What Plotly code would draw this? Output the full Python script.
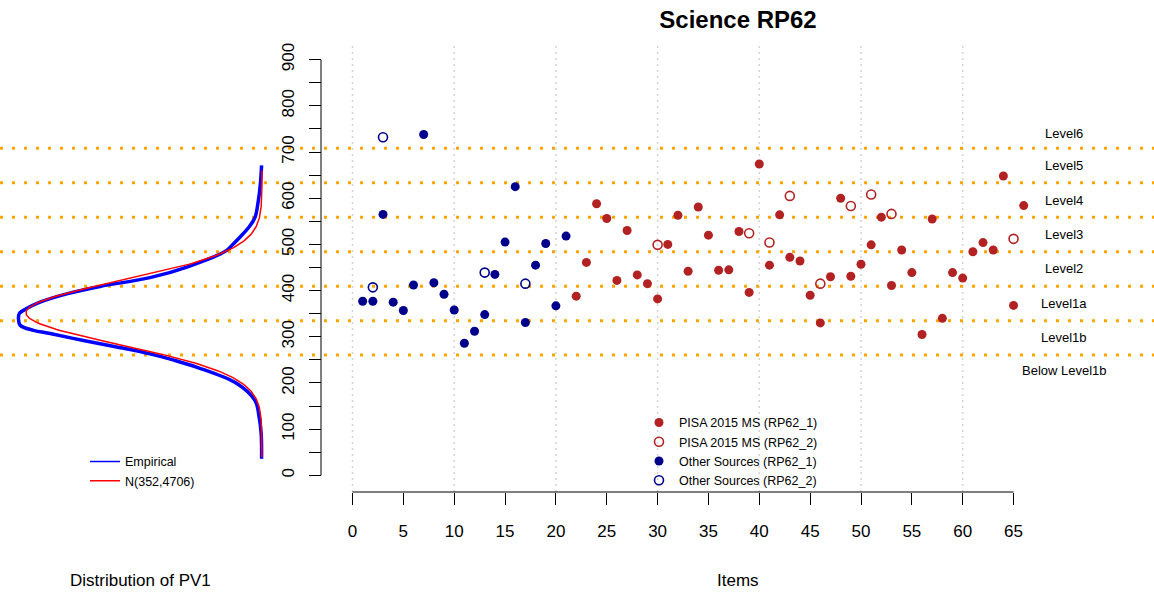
import numpy as np
import plotly.graph_objects as go

# ---------------- data ----------------
title_text = "Science RP62"
x_ticks = list(range(0, 70, 5))
y_ticks = list(range(0, 950, 50))
y_labels = [str(v) if v % 100 == 0 else "" for v in y_ticks]
grid_x = [0, 10, 20, 30, 40, 50, 60]

level_cuts = [260.54, 334.94, 409.54, 484.14, 558.73, 633.33, 707.93]
level_names = ["Below Level1b", "Level1b", "Level1a", "Level2",
               "Level3", "Level4", "Level5", "Level6"]
level_label_item = 70

other_items_1 = list(range(1, 22))
other_vals_1 = [377, 377, 565, 375, 357, 412, 738, 417, 392, 358, 286,
                312, 348, 435, 505, 625, 331, 455, 502, 367, 518]
other_items_2 = [2, 3, 13, 17]
other_vals_2 = [407, 732, 439, 415]

pisa_items_1 = list(range(22, 67))
pisa_vals_1 = [388, 461, 588, 556, 422, 530, 434, 415, 382, 500, 563, 442,
               581, 520, 444, 445, 528, 396, 674, 455, 564, 472, 464, 390,
               330, 430, 600, 431, 457, 499, 559, 411, 488, 439, 305, 555,
               340, 439, 427, 484, 504, 488, 648, 368, 584]
pisa_items_2 = [30, 39, 41, 43, 46, 49, 51, 53, 65]
pisa_vals_2 = [499, 524, 504, 605, 415, 583, 608, 566, 512]

emp_score = [36, 90, 126, 162, 198, 234, 250, 263, 278, 292, 307, 314, 325,
             339, 350, 361, 375, 393, 409, 428, 451, 487, 500, 516, 540,
             559, 595, 631, 671]
emp_density = [0.00001, 0.00002, 0.00007, 0.00017, 0.00060, 0.00160,
               0.00219, 0.00276, 0.00358, 0.00440, 0.00522, 0.00563,
               0.00596, 0.00600, 0.00598, 0.00580, 0.00547, 0.00481,
               0.00399, 0.00276, 0.00185, 0.00087, 0.00072, 0.00054,
               0.00030, 0.00017, 0.00009, 0.00004, 0.00001]

norm_mean = 352
norm_var = 4706
norm_from, norm_to = 40, 660

# ---------------- figure ----------------
W, H = 1154, 592
M_T, M_B = 42.7, 100.4
PLOT_H = H - M_T - M_B
FONT = "Liberation Sans, Arial, Helvetica, sans-serif"

def py(px):  # pixel row -> paper y
    return (H - M_B - px) / PLOT_H

norm_score = np.linspace(norm_from, norm_to, 300)
norm_density = np.exp(-(norm_score - norm_mean) ** 2 / (2 * norm_var)) / np.sqrt(2 * np.pi * norm_var)

fig = go.Figure()

fig.add_trace(go.Scatter(x=pisa_items_1, y=pisa_vals_1, mode="markers", name="PISA 2015 MS (RP62_1)",
                         marker=dict(symbol="circle", size=9, color="#B22222"),
                         xaxis="x2", yaxis="y", legend="legend"))
fig.add_trace(go.Scatter(x=pisa_items_2, y=pisa_vals_2, mode="markers", name="PISA 2015 MS (RP62_2)",
                         marker=dict(symbol="circle-open", size=9, color="#B22222", line=dict(width=1.6)),
                         xaxis="x2", yaxis="y", legend="legend"))
fig.add_trace(go.Scatter(x=other_items_1, y=other_vals_1, mode="markers", name="Other Sources (RP62_1)",
                         marker=dict(symbol="circle", size=9, color="#00008B"),
                         xaxis="x2", yaxis="y", legend="legend"))
fig.add_trace(go.Scatter(x=other_items_2, y=other_vals_2, mode="markers", name="Other Sources (RP62_2)",
                         marker=dict(symbol="circle-open", size=9, color="#00008B", line=dict(width=1.6)),
                         xaxis="x2", yaxis="y", legend="legend"))

norm_name = f"N({norm_mean},{norm_var})"
fig.add_trace(go.Scatter(x=emp_density, y=emp_score, mode="lines", name="Empirical",
                         line=dict(color="#0000FF", width=3.5, shape="spline"),
                         xaxis="x", yaxis="y", showlegend=False))
fig.add_trace(go.Scatter(x=norm_density, y=norm_score, mode="lines", name=norm_name,
                         line=dict(color="#FF0000", width=1.5),
                         xaxis="x", yaxis="y", showlegend=False))
# thin legend keys, as in the original legend
fig.add_trace(go.Scatter(x=[None], y=[None], mode="lines", name="Empirical",
                         line=dict(color="#0000FF", width=1.5),
                         xaxis="x", yaxis="y", legend="legend2"))
fig.add_trace(go.Scatter(x=[None], y=[None], mode="lines", name=norm_name,
                         line=dict(color="#FF0000", width=1.5),
                         xaxis="x", yaxis="y", legend="legend2"))

shapes = []
for g in grid_x:
    shapes.append(dict(type="line", xref="x2", yref="paper", x0=g, x1=g, y0=0, y1=1,
                       line=dict(color="#D3D3D3", width=1.5, dash="2px,4px"), layer="below"))
for c in level_cuts:
    shapes.append(dict(type="line", xref="paper", yref="y", x0=0, x1=1, y0=c, y1=c,
                       line=dict(color="#FFA500", width=3, dash="3px,9px"), layer="below"))
# R-style axis lines spanning first to last tick
YAX_POS = 321 / W
shapes.append(dict(type="line", xref="x2", yref="paper", x0=x_ticks[0], x1=x_ticks[-1], y0=0, y1=0,
                   line=dict(color="black", width=1)))
shapes.append(dict(type="line", xref="paper", yref="y", x0=YAX_POS, x1=YAX_POS,
                   y0=y_ticks[0], y1=y_ticks[-1], line=dict(color="black", width=1)))

bounds = [level_cuts[0] - 68] + level_cuts + [level_cuts[-1] + 66]
annotations = []
for name, lo, hi in zip(level_names, bounds[:-1], bounds[1:]):
    annotations.append(dict(x=level_label_item, y=(lo + hi) / 2, xref="x2", yref="y",
                            text=name, showarrow=False, xanchor="center", yanchor="middle",
                            font=dict(size=13, family=FONT, color="black")))
annotations.append(dict(x=738 / W, y=py(580), xref="paper", yref="paper", text="Items",
                        showarrow=False, xanchor="center", yanchor="middle",
                        font=dict(size=17, family=FONT, color="black")))
annotations.append(dict(x=140 / W, y=py(580), xref="paper", yref="paper", text="Distribution of PV1",
                        showarrow=False, xanchor="center", yanchor="middle",
                        font=dict(size=17, family=FONT, color="black")))

# left panel density axis (reversed), baseline at pixel 262
PX_PER_DENS = 236 / 0.005815
left_dom = 0.25
left_right_px = left_dom * W
fig.update_layout(
    width=W, height=H,
    margin=dict(l=0, r=0, t=M_T, b=M_B, pad=0),
    paper_bgcolor="white", plot_bgcolor="white",
    font=dict(family=FONT, color="black"),
    showlegend=True,
    title=dict(text="<b>" + title_text + "</b>", x=738 / W, xanchor="center",
               y=1 - 20 / H, yanchor="middle", yref="container",
               font=dict(size=24, family=FONT, color="black")),
    xaxis=dict(domain=[0, left_dom], anchor="y",
               range=[262 / PX_PER_DENS, (262 - left_right_px) / PX_PER_DENS],
               visible=False, automargin=False),
    xaxis2=dict(domain=[YAX_POS, 1], anchor="y",
                range=[(321 - 352.5) / 10.17, (W - 352.5) / 10.17],
                tickmode="array", tickvals=x_ticks, ticktext=[str(t) for t in x_ticks],
                ticks="outside", ticklen=12, tickwidth=1, tickcolor="black",
                showline=False, showgrid=False, zeroline=False,
                tickfont=dict(size=17, family=FONT, color="black"),
                ticklabelstandoff=12, automargin=False),
    yaxis=dict(domain=[0, 1], anchor="free", position=YAX_POS,
               range=[-36, 936],
               tickmode="array", tickvals=y_ticks, ticktext=y_labels,
               ticks="outside", ticklen=12, tickwidth=1, tickcolor="black",
               tickangle=-90,
               showline=False, showgrid=False, zeroline=False,
               tickfont=dict(size=17, family=FONT, color="black"),
               ticklabelstandoff=8, automargin=False),
    legend=dict(x=639 / W, y=py(407.5), xanchor="left", yanchor="top",
                bgcolor="rgba(0,0,0,0)", borderwidth=0, tracegroupgap=0,
                font=dict(size=12.5, family=FONT, color="black")),
    legend2=dict(x=85 / W, y=py(446.5), xanchor="left", yanchor="top",
                 bgcolor="rgba(0,0,0,0)", borderwidth=0, tracegroupgap=0,
                 font=dict(size=12.5, family=FONT, color="black")),
    shapes=shapes,
    annotations=annotations,
    hovermode=False,
)

fig.write_html("out.html")
